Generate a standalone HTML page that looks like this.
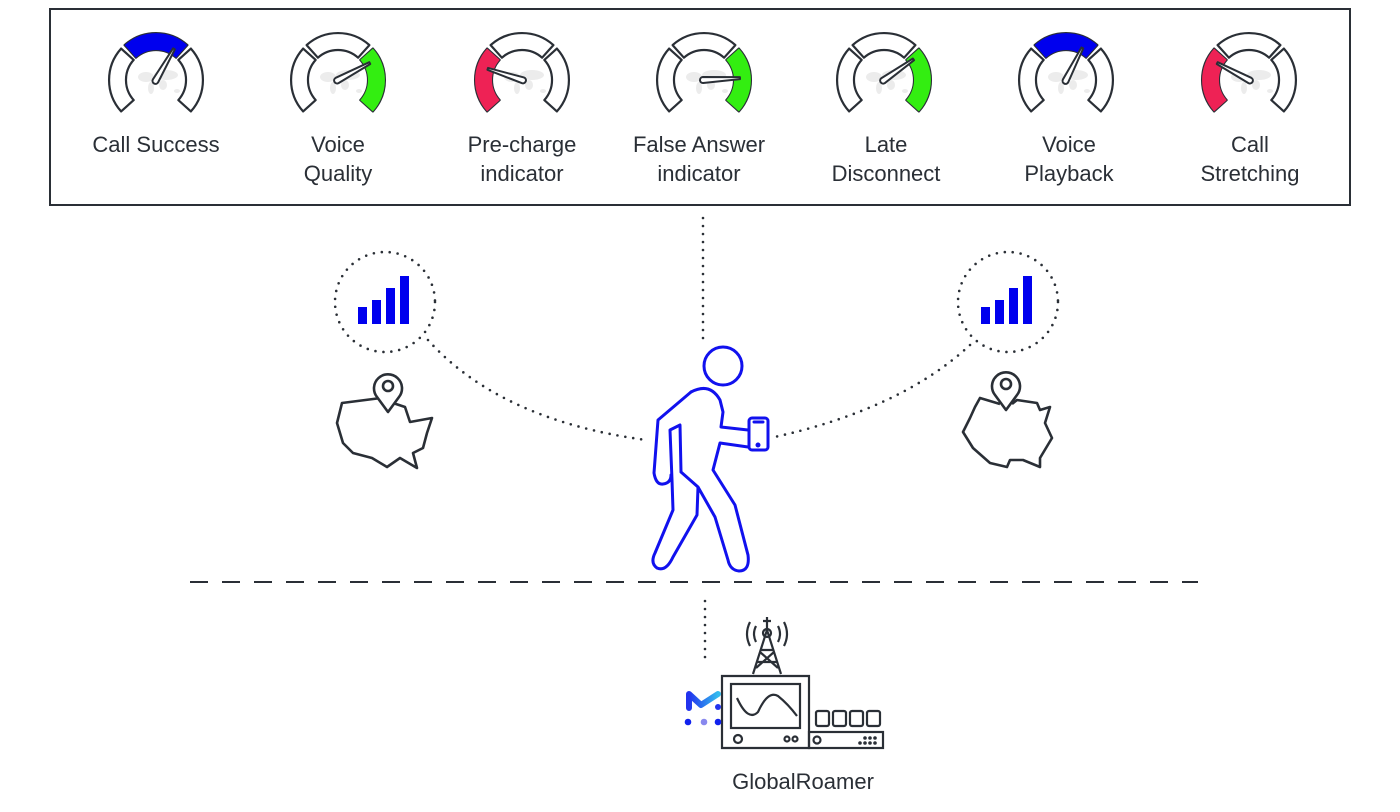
<!DOCTYPE html>
<html><head><meta charset="utf-8"><style>
html,body{margin:0;padding:0;background:#fff;}
svg{display:block}
text{font-family:"Liberation Sans",sans-serif;fill:#2a2f36;font-size:22px;text-anchor:middle}
</style></head><body>
<svg width="1400" height="812" viewBox="0 0 1400 812" xmlns="http://www.w3.org/2000/svg">
<defs>
<linearGradient id="lg" x1="0" y1="0" x2="1" y2="0"><stop offset="0" stop-color="#2233ee"/><stop offset="1" stop-color="#33bbee"/></linearGradient>
<g id="segs" fill="#fff" stroke="#2a2f36" stroke-width="2.2" stroke-linejoin="round">
<path d="M-34.9,31.4 A47,47 0 0 1 -34.9,-31.4 L-22.3,-20.1 A30,30 0 0 0 -22.3,20.1 Z"/>
<path d="M-31.4,-34.9 A47,47 0 0 1 31.4,-34.9 L20.1,-22.3 A30,30 0 0 0 -20.1,-22.3 Z"/>
<path d="M34.9,-31.4 A47,47 0 0 1 34.9,31.4 L22.3,20.1 A30,30 0 0 0 22.3,-20.1 Z"/>
</g>
<path id="segL" d="M-34.9,31.4 A47,47 0 0 1 -34.9,-31.4 L-22.3,-20.1 A30,30 0 0 0 -22.3,20.1 Z"/>
<path id="segT" d="M-31.4,-34.9 A47,47 0 0 1 31.4,-34.9 L20.1,-22.3 A30,30 0 0 0 -20.1,-22.3 Z"/>
<path id="segR" d="M34.9,-31.4 A47,47 0 0 1 34.9,31.4 L22.3,20.1 A30,30 0 0 0 22.3,-20.1 Z"/>
<g id="map" fill="#ececec">
<ellipse cx="-10" cy="-3" rx="8" ry="5"/><ellipse cx="-5" cy="8" rx="3" ry="6"/>
<ellipse cx="10" cy="-5" rx="12" ry="5"/><ellipse cx="7" cy="5" rx="4" ry="5"/><ellipse cx="21" cy="11" rx="3" ry="2"/>
</g>
<path id="needle" d="M-3,1 L-1,-36 L1,-36 L3,1 A3,3 0 0 1 -3,1Z" fill="#fff" stroke="#2a2f36" stroke-width="2" stroke-linejoin="round"/>
</defs>

<rect x="50" y="9" width="1300" height="196" fill="none" stroke="#2a2f36" stroke-width="2"/>

<g transform="translate(156,80)"><use href="#map"/><use href="#segs"/><use href="#segT" fill="#0000ee"/><use href="#needle" transform="rotate(30)"/></g>
<g transform="translate(338,80)"><use href="#map"/><use href="#segs"/><use href="#segR" fill="#33ee11"/><use href="#needle" transform="rotate(62)"/></g>
<g transform="translate(522,80)"><use href="#map"/><use href="#segs"/><use href="#segL" fill="#ee2255"/><use href="#needle" transform="rotate(-72)"/></g>
<g transform="translate(704,80)"><use href="#map"/><use href="#segs"/><use href="#segR" fill="#33ee11"/><use href="#needle" transform="rotate(87)"/></g>
<g transform="translate(884,80)"><use href="#map"/><use href="#segs"/><use href="#segR" fill="#33ee11"/><use href="#needle" transform="rotate(55)"/></g>
<g transform="translate(1066,80)"><use href="#map"/><use href="#segs"/><use href="#segT" fill="#0000ee"/><use href="#needle" transform="rotate(27)"/></g>
<g transform="translate(1249,80)"><use href="#map"/><use href="#segs"/><use href="#segL" fill="#ee2255"/><use href="#needle" transform="rotate(-62)"/></g>

<text x="156" y="152">Call Success</text>
<text x="338" y="152">Voice</text><text x="338" y="181">Quality</text>
<text x="522" y="152">Pre-charge</text><text x="522" y="181">indicator</text>
<text x="699" y="152">False Answer</text><text x="699" y="181">indicator</text>
<text x="886" y="152">Late</text><text x="886" y="181">Disconnect</text>
<text x="1069" y="152">Voice</text><text x="1069" y="181">Playback</text>
<text x="1250" y="152">Call</text><text x="1250" y="181">Stretching</text>

<g fill="none" stroke="#2a2f36" stroke-width="2.6" stroke-linecap="round" stroke-dasharray="0 8">
<line x1="703" y1="218" x2="703" y2="340"/>
<circle cx="385" cy="302" r="50"/>
<circle cx="1008" cy="302" r="50"/>
<path d="M428,340 Q500,420 646,440"/>
<path d="M970,345 Q900,410 770,438"/>
<line x1="705" y1="601" x2="705" y2="665"/>
</g>
<line x1="190" y1="582" x2="1198" y2="582" stroke="#2a2f36" stroke-width="2" stroke-dasharray="18 14"/>

<g fill="#0000ee">
<rect x="358" y="307" width="9" height="17"/><rect x="372" y="300" width="9" height="24"/><rect x="386" y="288" width="9" height="36"/><rect x="400" y="276" width="9" height="48"/>
<rect x="981" y="307" width="9" height="17"/><rect x="995" y="300" width="9" height="24"/><rect x="1009" y="288" width="9" height="36"/><rect x="1023" y="276" width="9" height="48"/>
</g>

<g fill="none" stroke="#2a2f36" stroke-width="2.6" stroke-linejoin="round">
<path d="M381,398 L342,403 L337,423 L343,443 L353,453 L372,458 L387,467 L400,458 L417,468 L413,453 L423,448 L427,433 L432,418 L410,422 L405,407 L393,403"/>
<path d="M388,412 L377,397 A14,14 0 1 1 399,397 Z" fill="#fff"/>
<circle cx="388" cy="386" r="5"/>
<path d="M1000,404 L980,398 L975,407 L970,418 L963,432 L973,448 L990,463 L1007,467 L1010,460 L1023,460 L1040,467 L1040,458 L1052,438 L1045,423 L1050,407 L1040,410 L1037,403 L1017,400 L1012,404"/>
<path d="M1006,410 L995,395 A14,14 0 1 1 1017,395 Z" fill="#fff"/>
<circle cx="1006" cy="384" r="5"/>
</g>

<g fill="none" stroke="#1111ee" stroke-width="3" stroke-linejoin="round" stroke-linecap="round">
<circle cx="723" cy="366" r="19"/>
<path d="M691,392 Q710,382 720,400 L723,412 L721,427 L748,430 M748,447 L720,443 L713,470 L735,505 L748,555 Q750,571 739,571 Q730,570 728,560 L715,517 L698,487 L697,515 L673,557 Q666,572 657,568 Q650,563 655,553 L673,510 L672,480 L670,430 L680,425 L681,472 M681,472 L698,487"/>
<path d="M691,392 L658,420 L654,473 Q656,485 663,484 Q671,483 671,475"/>
<rect x="749" y="418" width="19" height="32" rx="3"/>
<line x1="754" y1="422" x2="763" y2="422"/>
<circle cx="758" cy="445" r="1" fill="#1111ee"/>
</g>

<g fill="none" stroke="#2a2f36" stroke-width="2.2">
<path d="M722,676 L809,676 L809,748 L722,748 Z"/>
<rect x="731" y="684" width="69" height="44"/>
<path d="M737,698 Q748,722 758,712 Q768,690 778,696 Q788,704 797,716"/>
<circle cx="738" cy="739" r="4"/>
<circle cx="787" cy="739" r="2.5"/><circle cx="795" cy="739" r="2.5"/>
<rect x="809" y="732" width="74" height="16"/>
<circle cx="817" cy="740" r="3.5"/>
<rect x="816" y="711" width="13" height="15" rx="2"/><rect x="833" y="711" width="13" height="15" rx="2"/><rect x="850" y="711" width="13" height="15" rx="2"/><rect x="867" y="711" width="13" height="15" rx="2"/>
<path d="M753,674 L767,630 L781,674 M757,662 L777,662 M760,650 L774,650 M756,668 L774,652 M778,668 L760,652 M767,630 L767,617 M763,621 L771,621"/>
<circle cx="767" cy="633" r="4"/>
<path d="M756,626 Q752,634 756,642 M778,626 Q782,634 778,642 M750,622 Q744,634 750,646 M784,622 Q790,634 784,646"/>
</g>
<g fill="#2a2f36"><circle cx="860" cy="743" r="1.8"/><circle cx="865" cy="743" r="1.8"/><circle cx="870" cy="743" r="1.8"/><circle cx="865" cy="738" r="1.8"/><circle cx="870" cy="738" r="1.8"/><circle cx="875" cy="738" r="1.8"/><circle cx="875" cy="743" r="1.8"/></g>
<path d="M689,708 L689,694 L701,705 L718,694" fill="none" stroke="url(#lg)" stroke-width="6" stroke-linejoin="round" stroke-linecap="round"/>
<circle cx="718" cy="707" r="3" fill="#2233ee"/>
<circle cx="688" cy="722" r="3.3" fill="#1122ee"/><circle cx="704" cy="722" r="3.3" fill="#8888ee"/><circle cx="718" cy="722" r="3.3" fill="#1122ee"/>
<text x="803" y="789">GlobalRoamer</text>
</svg>
</body></html>
